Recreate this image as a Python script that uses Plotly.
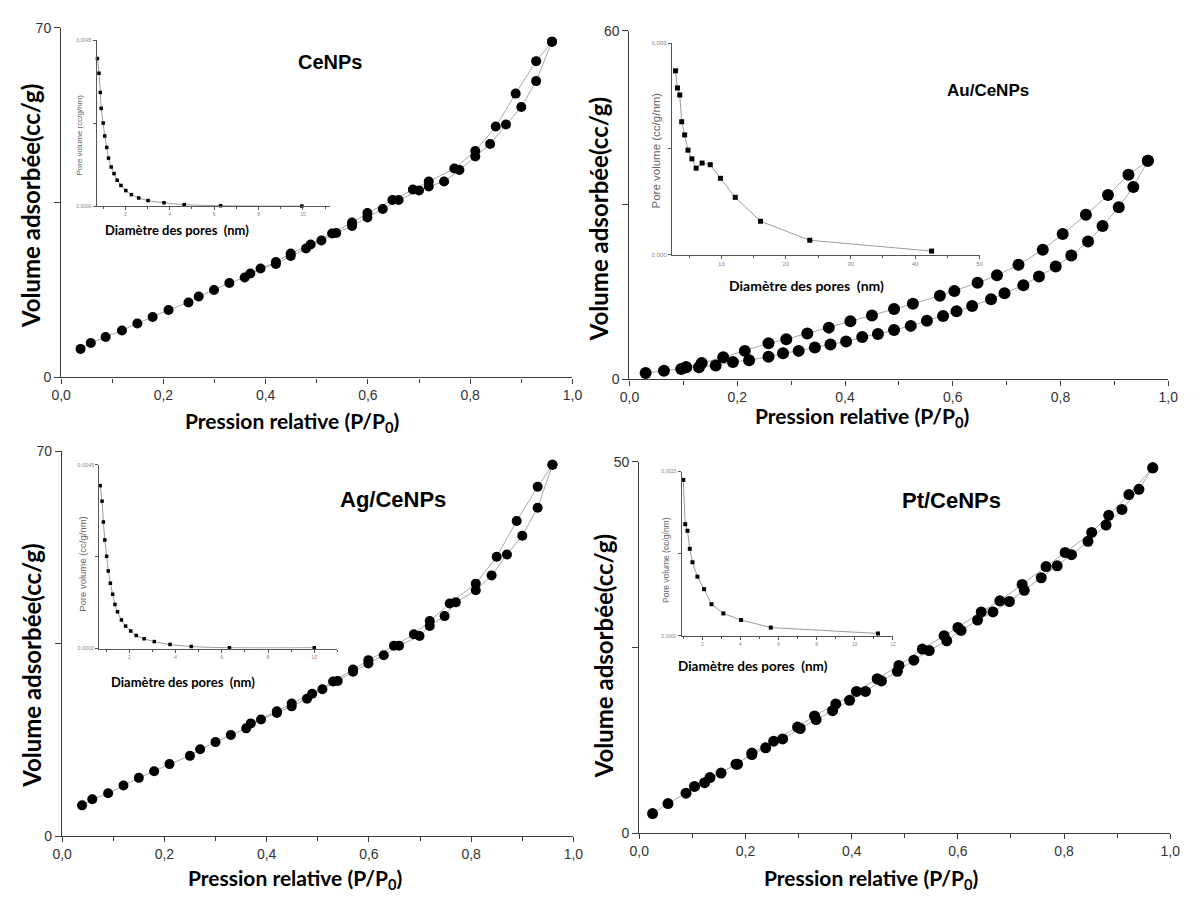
import plotly.graph_objects as go

W, H = 1197, 910

# ---------------- Isotherm data (P/P0, cc/g) ----------------
ce_ads_x = [0.038, 0.058, 0.087, 0.119, 0.149, 0.179, 0.210, 0.249, 0.269, 0.299, 0.329, 0.359, 0.390, 0.420,
            0.449, 0.479, 0.509, 0.538, 0.569, 0.599, 0.629, 0.660, 0.700, 0.719, 0.749, 0.779, 0.810, 0.839,
            0.870, 0.900, 0.929, 0.960]
ce_ads_y = [5.7, 6.9, 8.1, 9.4, 10.8, 12.1, 13.5, 15.0, 16.2, 17.5, 18.9, 20.0, 21.8, 22.7, 24.3, 25.8, 27.4,
            28.9, 30.3, 32.0, 33.7, 35.5, 37.4, 38.2, 39.2, 41.5, 44.2, 46.7, 50.6, 54.1, 59.3, 67.2]
ce_des_x = [0.960, 0.929, 0.889, 0.850, 0.810, 0.769, 0.719, 0.688, 0.648, 0.599, 0.569, 0.530, 0.488, 0.449,
            0.420, 0.370]
ce_des_y = [67.2, 63.3, 56.8, 50.2, 45.3, 41.8, 39.2, 37.6, 35.5, 32.9, 31.0, 28.8, 26.6, 24.8, 23.1, 20.8]

au_ads_x = [0.030, 0.064, 0.096, 0.105, 0.129, 0.160, 0.192, 0.222, 0.258, 0.285, 0.314, 0.344, 0.373, 0.402,
            0.432, 0.461, 0.491, 0.522, 0.552, 0.582, 0.607, 0.636, 0.671, 0.696, 0.731, 0.760, 0.791, 0.820,
            0.851, 0.878, 0.908, 0.935, 0.962]
au_ads_y = [1.1, 1.5, 1.8, 2.1, 2.1, 2.4, 3.0, 3.3, 3.9, 4.5, 4.9, 5.5, 6.0, 6.5, 7.3, 7.8, 8.5, 9.2, 10.1,
            10.9, 11.7, 12.6, 13.8, 14.8, 16.2, 17.7, 19.4, 21.3, 23.7, 26.4, 29.6, 33.1, 37.6]
au_des_x = [0.962, 0.926, 0.888, 0.847, 0.804, 0.767, 0.722, 0.682, 0.646, 0.603, 0.576, 0.526, 0.491, 0.450,
            0.410, 0.370, 0.330, 0.291, 0.258, 0.214, 0.174, 0.134, 0.105]
au_des_y = [37.6, 35.2, 31.7, 28.3, 25.0, 22.3, 19.7, 17.9, 16.6, 15.2, 14.4, 13.0, 12.1, 11.0, 10.0, 8.9, 7.9,
            6.9, 6.2, 4.9, 3.8, 2.8, 2.1]

ag_ads_x = [0.039, 0.059, 0.090, 0.120, 0.150, 0.180, 0.210, 0.250, 0.270, 0.300, 0.330, 0.360, 0.389, 0.420,
            0.449, 0.479, 0.509, 0.539, 0.569, 0.599, 0.629, 0.659, 0.699, 0.719, 0.748, 0.770, 0.809, 0.840,
            0.870, 0.900, 0.930, 0.959]
ag_ads_y = [5.6, 6.7, 7.8, 9.2, 10.6, 11.8, 13.1, 14.6, 15.8, 17.1, 18.4, 19.6, 21.2, 22.4, 23.6, 25.0, 26.7,
            28.2, 29.9, 31.4, 32.9, 34.6, 36.4, 38.2, 40.0, 42.5, 44.7, 47.4, 51.2, 54.6, 59.7, 67.5]
ag_des_x = [0.959, 0.930, 0.889, 0.850, 0.809, 0.758, 0.719, 0.688, 0.649, 0.599, 0.569, 0.530, 0.489, 0.449,
            0.420, 0.369]
ag_des_y = [67.5, 63.5, 57.3, 50.8, 45.9, 42.3, 39.1, 36.7, 34.6, 32.0, 30.3, 28.1, 25.9, 24.1, 22.7, 20.5]

pt_ads_x = [0.025, 0.054, 0.088, 0.104, 0.123, 0.154, 0.182, 0.212, 0.238, 0.270, 0.303, 0.333, 0.364, 0.396,
            0.426, 0.456, 0.486, 0.517, 0.546, 0.579, 0.606, 0.637, 0.666, 0.697, 0.725, 0.757, 0.787, 0.814,
            0.845, 0.879, 0.909, 0.941, 0.967]
pt_ads_y = [2.65, 4.0, 5.4, 6.3, 6.8, 8.1, 9.3, 10.6, 11.5, 12.7, 14.1, 15.3, 16.5, 17.9, 19.1, 20.5, 21.8,
            23.3, 24.6, 25.9, 27.3, 28.7, 29.8, 31.2, 32.7, 34.4, 36.0, 37.5, 39.3, 41.5, 43.6, 46.3, 49.2]
pt_des_x = [0.967, 0.922, 0.884, 0.852, 0.802, 0.766, 0.721, 0.679, 0.644, 0.600, 0.574, 0.533, 0.489, 0.448,
            0.409, 0.370, 0.330, 0.298, 0.253, 0.212, 0.185, 0.133]
pt_des_y = [49.2, 45.6, 42.8, 40.5, 37.8, 35.9, 33.5, 31.3, 29.8, 27.7, 26.6, 24.8, 22.6, 20.8, 19.1, 17.4,
            15.8, 14.3, 12.4, 10.8, 9.3, 7.5]

# ---------------- Pore size distributions (nm, cc/g/nm) ----------------
ce_psd_d = [0.74, 0.81, 0.87, 0.91, 1.00, 1.07, 1.16, 1.24, 1.36, 1.49, 1.63, 1.80, 2.02, 2.27, 2.60, 3.02,
            3.74, 4.65, 6.29, 9.95]
ce_psd_v = [0.00401, 0.00361, 0.00309, 0.00266, 0.00226, 0.00191, 0.00160, 0.00131, 0.00107, 0.00089,
            0.00071, 0.00057, 0.00043, 0.00032, 0.00023, 0.00016, 0.00010, 0.00005, 0.00002, 0.00001]
au_psd_d = [2.88, 3.18, 3.54, 3.84, 4.30, 4.81, 5.42, 6.08, 7.00, 8.27, 9.85, 12.14, 16.06, 23.69, 42.57]
au_psd_v = [0.00783, 0.00710, 0.00680, 0.00566, 0.00510, 0.00445, 0.00408, 0.00368, 0.00390, 0.00383,
            0.00325, 0.00244, 0.00142, 0.00061, 0.00015]
ag_psd_d = [0.74, 0.82, 0.88, 0.94, 1.02, 1.09, 1.18, 1.28, 1.38, 1.49, 1.66, 1.84, 2.06, 2.30, 2.64, 3.08,
            3.76, 4.68, 6.33, 10.0]
ag_psd_v = [0.00399, 0.00361, 0.00310, 0.00266, 0.00226, 0.00190, 0.00160, 0.00133, 0.00108, 0.00090,
            0.00070, 0.00055, 0.00043, 0.00032, 0.00024, 0.00017, 0.00010, 0.00005, 0.00002, 0.00002]
pt_psd_d = [1.00, 1.10, 1.22, 1.34, 1.48, 1.74, 2.09, 2.48, 3.10, 4.03, 5.59, 11.21]
pt_psd_v = [0.002375, 0.0017, 0.0016, 0.001325, 0.00112, 0.0009, 0.00071, 0.00048, 0.00034, 0.00024,
            0.000125, 0.000035]

# ---------------- Tick labels ----------------
p_ticks = [0.0, 0.2, 0.4, 0.6, 0.8, 1.0]
p_ticktext = ["0,0", "0,2", "0,4", "0,6", "0,8", "1,0"]
ce_yticks, ce_yticktext, ce_ymid = [0, 70], ["0", "70"], [35]
au_yticks, au_yticktext, au_ymid = [0, 60], ["0", "60"], [30]
ag_yticks, ag_yticktext, ag_ymid = [0, 70], ["0", "70"], [35]
pt_yticks, pt_yticktext, pt_ymid = [0, 50], ["0", "50"], [25]

ce_in_xt, ce_in_xtt = [2, 4, 6, 8, 10], ["2", "4", "6", "8", "10"]
au_in_xt, au_in_xtt = [10, 20, 30, 40, 50], ["10", "20", "30", "40", "50"]
pt_in_xt, pt_in_xtt = [2, 4, 6, 8, 10, 12], ["2", "4", "6", "8", "10", "12"]
ce_in_yt, ce_in_ytt, ce_in_ymid = [0, 0.0045], ["0,0000", "0,0045"], [0.00225]
au_in_yt, au_in_ytt, au_in_ymid = [0, 0.009], ["0,000", "0,009"], [0.0045]
pt_in_yt, pt_in_ytt, pt_in_ymid = [0, 0.0025], ["0,0000", "0,0025"], [0.00125]

sample_names = ["CeNPs", "Au/CeNPs", "Ag/CeNPs", "Pt/CeNPs"]


def dx(a, b):
    return [a / W, b / W]


def dy(top, bottom):
    return [1 - bottom / H, 1 - top / H]


fig = go.Figure()

TITLE_FONT = "Lato"
TICK_FONT = "Liberation Sans"
LINE_GREY = "#a8a8a8"

main_panels = [
    dict(ax="", box=(52, 572, 20, 376), ymax=70, yt=(ce_yticks, ce_yticktext, ce_ymid),
         ads=(ce_ads_x, ce_ads_y), des=(ce_des_x, ce_des_y), ms=10),
    dict(ax="2", box=(630, 1178, 23, 378), ymax=60, yt=(au_yticks, au_yticktext, au_ymid),
         ads=(au_ads_x, au_ads_y), des=(au_des_x, au_des_y), ms=12),
    dict(ax="3", box=(53, 573, 451, 843), ymax=70, yt=(ag_yticks, ag_yticktext, ag_ymid),
         ads=(ag_ads_x, ag_ads_y), des=(ag_des_x, ag_des_y), ms=10),
    dict(ax="4", box=(640, 1180, 462, 840), ymax=50, yt=(pt_yticks, pt_yticktext, pt_ymid),
         ads=(pt_ads_x, pt_ads_y), des=(pt_des_x, pt_des_y), ms=11),
]

inset_panels = [
    dict(ax="5", box=(88, 325, 33, 202), xr=[0.7, 11.2], yr=[0, 0.0045],
         xt=(ce_in_xt, ce_in_xtt), yt=(ce_in_yt, ce_in_ytt, ce_in_ymid), minor=1,
         d=ce_psd_d, v=ce_psd_v, ms=3.5, shape="spline", fs=5),
    dict(ax="6", box=(673, 986, 36, 251), xr=[2.3, 50], yr=[0, 0.009],
         xt=(au_in_xt, au_in_xtt), yt=(au_in_yt, au_in_ytt, au_in_ymid), minor=5,
         d=au_psd_d, v=au_psd_v, ms=5, shape="linear", fs=6),
    dict(ax="7", box=(91, 333, 465, 652), xr=[0.71, 11.0], yr=[0, 0.0045],
         xt=(ce_in_xt, ce_in_xtt), yt=(ce_in_yt, ce_in_ytt, ce_in_ymid), minor=1,
         d=ag_psd_d, v=ag_psd_v, ms=3.5, shape="spline", fs=5.5),
    dict(ax="8", box=(683, 898, 472, 639), xr=[0.91, 12.0], yr=[0, 0.0025],
         xt=(pt_in_xt, pt_in_xtt), yt=(pt_in_yt, pt_in_ytt, pt_in_ymid), minor=1,
         d=pt_psd_d, v=pt_psd_v, ms=4, shape="linear", fs=5),
]

layout_axes = {}

for p in main_panels:
    xa, ya = "x" + p["ax"], "y" + p["ax"]
    for xs, ys in (p["ads"], p["des"]):
        fig.add_trace(go.Scatter(x=xs, y=ys, xaxis=xa, yaxis=ya, mode="lines",
                                 line=dict(color=LINE_GREY, width=1), hoverinfo="skip",
                                 showlegend=False, cliponaxis=False))
    for xs, ys in (p["ads"], p["des"]):
        fig.add_trace(go.Scatter(x=xs, y=ys, xaxis=xa, yaxis=ya, mode="markers",
                                 marker=dict(color="black", size=p["ms"], symbol="circle"),
                                 showlegend=False, cliponaxis=False))
    x0, x1, top, bottom = p["box"]
    key = p["ax"]
    layout_axes["xaxis" + key] = dict(
        domain=dx(x0, x1), range=[0, 1], anchor=ya, showgrid=False, zeroline=False,
        showline=True, linecolor="#3c3c3c", linewidth=1.3, ticks="outside", ticklen=5,
        tickwidth=1.2, tickcolor="#3c3c3c", tickvals=p_ticks, ticktext=p_ticktext,
        tickfont=dict(family=TICK_FONT, size=14, color="#333333"),
        minor=dict(ticks="outside", ticklen=4, tickwidth=1.1, tickcolor="#3c3c3c", dtick=0.1, tick0=0))
    layout_axes["yaxis" + key] = dict(
        domain=dy(top, bottom), range=[0, p["ymax"]], anchor=xa, showgrid=False, zeroline=False,
        showline=True, linecolor="#3c3c3c", linewidth=1.3, ticks="outside", ticklen=6,
        tickwidth=1.2, tickcolor="#3c3c3c", tickvals=p["yt"][0], ticktext=p["yt"][1],
        tickfont=dict(family=TICK_FONT, size=14, color="#333333"),
        minor=dict(ticks="outside", ticklen=6, tickwidth=1.2, tickcolor="#3c3c3c",
                   tickmode="array", tickvals=p["yt"][2]))

for p in inset_panels:
    xa, ya = "x" + p["ax"], "y" + p["ax"]
    fig.add_trace(go.Scatter(x=p["d"], y=p["v"], xaxis=xa, yaxis=ya, mode="lines+markers",
                             line=dict(color="#9a9a9a", width=1, shape=p["shape"]),
                             marker=dict(color="black", size=p["ms"], symbol="square"),
                             showlegend=False, cliponaxis=False))
    x0, x1, top, bottom = p["box"]
    key = p["ax"]
    layout_axes["xaxis" + key] = dict(
        domain=dx(x0, x1), range=p["xr"], anchor=ya, showgrid=False, zeroline=False,
        showline=True, linecolor="#555555", linewidth=1, ticks="outside", ticklen=3,
        tickwidth=0.8, tickcolor="#555555", tickvals=p["xt"][0], ticktext=p["xt"][1],
        tickfont=dict(family=TICK_FONT, size=p["fs"], color="#888888"),
        minor=dict(ticks="outside", ticklen=2, tickwidth=0.7, tickcolor="#555555",
                   dtick=p["minor"], tick0=0))
    layout_axes["yaxis" + key] = dict(
        domain=dy(top, bottom), range=p["yr"], anchor=xa, showgrid=False, zeroline=False,
        showline=True, linecolor="#555555", linewidth=1, ticks="outside", ticklen=3,
        tickwidth=0.8, tickcolor="#555555", tickvals=p["yt"][0], ticktext=p["yt"][1],
        tickfont=dict(family=TICK_FONT, size=p["fs"], color="#888888"),
        minor=dict(ticks="outside", ticklen=3, tickwidth=0.8, tickcolor="#555555",
                   tickmode="array", tickvals=p["yt"][2]))

annotations = []


def add_text(text, x, y, size, family=TITLE_FONT, bold=True, angle=0, color="black"):
    annotations.append(dict(
        text=text, x=x / W, y=1 - y / H, xref="paper", yref="paper", showarrow=False,
        xanchor="center", yanchor="middle", textangle=angle,
        font=dict(family=family, size=size, color=color, weight="bold" if bold else "normal")))


# isotherm axis titles
for (xc, yc) in [(21, 202), (598, 215), (22, 670), (603, 660)]:
    add_text("Volume adsorbée(cc/g)", xc, yc, 24, angle=-90)
for (xc, yc) in [(287, 421), (866, 416), (290, 887), (876, 887)]:
    add_text("Pression relative (P/P<sub>0</sub>)", xc, yc, 21)

# sample names
add_text(sample_names[0], 325, 55, 20, family=TICK_FONT)
add_text(sample_names[1], 995, 84, 17, family=TICK_FONT)
add_text(sample_names[2], 390, 500, 22, family=TICK_FONT)
add_text(sample_names[3], 957, 501, 22, family=TICK_FONT)

# pore size distribution axis titles
for (xc, yc, s) in [(170, 226, 13), (810, 282, 14), (176, 686, 13), (756, 670, 13.5)]:
    add_text("Diamètre des pores  (nm)", xc, yc, s)
for (xc, yc, s) in [(71, 129, 8), (657, 145, 11.5), (73, 566, 9.5), (667, 562, 8.5)]:
    add_text("Pore volume (cc/g/nm)", xc, yc, s, family=TICK_FONT, bold=False, angle=-90,
             color="#666666")

fig.update_layout(
    width=W, height=H, margin=dict(l=0, r=0, t=0, b=0),
    paper_bgcolor="white", plot_bgcolor="rgba(0,0,0,0)",
    showlegend=False, annotations=annotations, **layout_axes)

fig.write_html("out.html")
